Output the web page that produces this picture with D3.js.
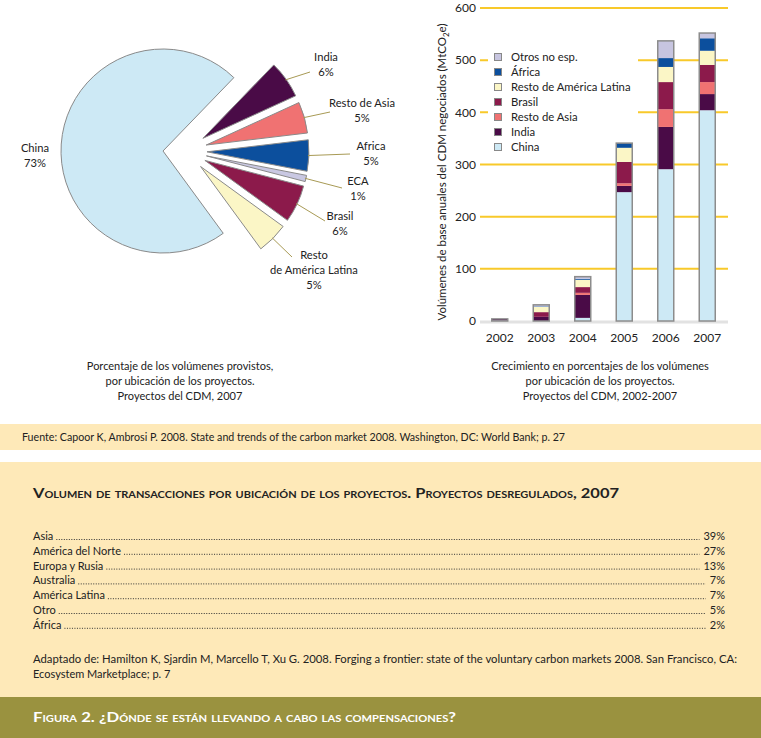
<!DOCTYPE html>
<html>
<head>
<meta charset="utf-8">
<script src="https://cdn.jsdelivr.net/npm/d3@7"></script>
<style>
  body { margin: 0; background: #fff; }
  svg { display: block; font-family: Lato, "Open Sans", sans-serif; }
  text { fill: #222; }
</style>
</head>
<body>
<div id="chart"></div>
<script>
// ---- data ----
const years = ["2002", "2003", "2004", "2005", "2006", "2007"];
const seriesNames = ["China", "India", "Resto de Asia", "Brasil", "Resto de América Latina", "África", "Otros no esp."];
const china     = [1, 0, 6, 247, 291, 404];
const india     = [3, 8, 44, 12, 81, 31];
const restoAsia = [0, 0, 4, 5, 34, 23];
const brasil    = [0, 9, 11, 41, 52, 33];
const restoAL   = [0, 10, 14, 27, 29, 27];
const africa    = [0, 1, 2, 9, 17, 24];
const otros     = [0, 3, 4, 0, 33, 10];
const yTicks = [0, 100, 200, 300, 400, 500, 600];

const pieNames  = ["India", "Resto de Asia", "Africa", "ECA", "Brasil", "Resto de América Latina", "China"];
const pieValues = [6, 5, 5, 1, 6, 5, 73];
const pieLabelText = [["India"], ["Resto de Asia"], ["Africa"], ["ECA"], ["Brasil"], ["Resto", "de América Latina"], ["China"]];

const deregNames = ["Asia", "América del Norte", "Europa y Rusia", "Australia", "América Latina", "Otro", "África"];
const deregPct   = [39, 27, 13, 7, 7, 5, 2];

// ---- colours ----
const colors = {
  "China": "#cde9f5", "India": "#4a0b47", "Resto de Asia": "#f07272", "Brasil": "#8c1a4b",
  "Resto de América Latina": "#fbf6c6", "África": "#0c4f9d", "Africa": "#0c4f9d",
  "Otros no esp.": "#c7c5e0", "ECA": "#c9c8e2"
};
const gold = "#f8c92a", boxFill = "#fee9b8", olive = "#9a923f", leader = "#a89a55";

const W = 761, H = 738;
const svg = d3.select("#chart").append("svg").attr("width", W).attr("height", H);

// ================= PIE =================
const cx = 163, cy = 151, r = 102;
const pie = d3.pie().sort(null).value(d => d)
  .startAngle(44 * Math.PI / 180).endAngle(44 * Math.PI / 180 + 2 * Math.PI);
const arcs = pie(pieValues);
const arc = d3.arc().innerRadius(0).outerRadius(r);

// label blocks and leader ends are hand placed, like the original
const labelPos = [[326, 61], [362, 107], [371, 150], [358, 185], [340, 220], [314, 259], [35, 152]];
const leaderEnd = [[310, 72], [330, 112], [350, 154], [342, 188], [325, 221], [292, 257], null];

function offset(a, i) {
  if (pieNames[i] === "China") return [0, 0];
  const m = (a.startAngle + a.endAngle) / 2;
  return [22 + 22 * Math.sin(m), -22 * Math.cos(m)];
}

const gp = svg.append("g");
arcs.forEach((a, i) => {
  const [dx, dy] = offset(a, i);
  gp.append("path")
    .attr("transform", `translate(${cx + dx},${cy + dy})`)
    .attr("d", arc(a))
    .attr("fill", colors[pieNames[i]])
    .attr("stroke", "#8a8a8a").attr("stroke-width", 1);
  if (leaderEnd[i]) {
    const m = (a.startAngle + a.endAngle) / 2;
    const sx = cx + dx + (r - 1) * Math.sin(m), sy = cy + dy - (r - 1) * Math.cos(m);
    gp.append("line").attr("x1", sx).attr("y1", sy)
      .attr("x2", leaderEnd[i][0]).attr("y2", leaderEnd[i][1])
      .attr("stroke", leader).attr("stroke-width", 1);
  }
  const lines = pieLabelText[i].concat([pieValues[i] + "%"]);
  const t = gp.append("text").attr("text-anchor", "middle").attr("font-size", 11.2);
  lines.forEach((l, k) => t.append("tspan").attr("x", labelPos[i][0]).attr("y", labelPos[i][1] + k * 15).text(l));
});

function caption(x, y, lines) {
  const t = svg.append("text").attr("text-anchor", "middle").attr("font-size", 11);
  lines.forEach((l, k) => t.append("tspan").attr("x", x).attr("y", y + k * 15).text(l));
}
caption(180, 370, ["Porcentaje de los volúmenes provistos,", "por ubicación de los proyectos.", "Proyectos del CDM, 2007"]);

// ================= STACKED BARS =================
const x = d3.scaleBand().domain(years).range([479, 728]);
const y = d3.scaleLinear().domain([0, 600]).range([321, 8]);
const barW = 16;

const gb = svg.append("g");
gb.selectAll("line.grid").data(yTicks.filter(d => d > 0)).join("line")
  .attr("x1", 480).attr("x2", 728).attr("y1", d => y(d)).attr("y2", d => y(d))
  .attr("stroke", gold).attr("stroke-width", 2);
gb.append("line").attr("x1", 480).attr("x2", 728).attr("y1", y(0) + 1).attr("y2", y(0) + 1)
  .attr("stroke", "#e2e2e2").attr("stroke-width", 3);
gb.selectAll("text.tick").data(yTicks).join("text")
  .attr("x", 476).attr("y", d => y(d)).attr("dy", "0.35em")
  .attr("text-anchor", "end").attr("font-size", 12).text(d => d);

// legend background hides the gridlines behind it (drawn before the bars)
gb.append("rect").attr("x", 488).attr("y", 48).attr("width", 150).attr("height", 108).attr("fill", "#fff");

const seriesVals = [china, india, restoAsia, brasil, restoAL, africa, otros];
const table = years.map((yr, i) => {
  const row = { year: yr };
  seriesNames.forEach((s, k) => row[s] = seriesVals[k][i]);
  return row;
});
const stack = d3.stack().keys(seriesNames)(table);

gb.selectAll("g.layer").data(stack).join("g")
  .attr("fill", d => colors[d.key])
  .selectAll("rect").data(d => d).join("rect")
  .attr("x", d => x(d.data.year) + x.bandwidth() / 2 - barW / 2)
  .attr("width", barW)
  .attr("y", d => y(d[1]))
  .attr("height", d => y(d[0]) - y(d[1]));

const total = d => d3.sum(seriesNames, s => d[s]);
gb.selectAll("rect.outline").data(table).join("rect")
  .attr("x", d => x(d.year) + x.bandwidth() / 2 - barW / 2)
  .attr("width", barW)
  .attr("y", d => y(total(d)))
  .attr("height", d => y(0) - y(total(d)))
  .attr("fill", "none").attr("stroke", "#8c8c8c").attr("stroke-width", 1.5);

gb.selectAll("text.year").data(years).join("text")
  .attr("x", d => x(d) + x.bandwidth() / 2).attr("y", 342)
  .attr("text-anchor", "middle").attr("font-size", 12).text(d => d);

// y title
const yt = gb.append("text").attr("transform", "translate(446,172) rotate(-90)")
  .attr("text-anchor", "middle").attr("font-size", 11.5);
yt.append("tspan").text("Volúmenes de base anuales del CDM negociados (MtCO");
yt.append("tspan").attr("font-size", 8).attr("dy", 3).text("2");
yt.append("tspan").attr("dy", -3).text("e)");

// legend
const legendOrder = seriesNames.slice().reverse();
const lg = gb.selectAll("g.leg").data(legendOrder).join("g")
  .attr("transform", (d, i) => `translate(498,${57 + i * 15})`);
lg.append("rect").attr("x", -3.5).attr("y", -3.5).attr("width", 7).attr("height", 7)
  .attr("fill", d => colors[d]).attr("stroke", "#888").attr("stroke-width", 1);
lg.append("text").attr("x", 13).attr("dy", "0.36em").attr("font-size", 11.3).text(d => d);

caption(600, 370, ["Crecimiento en porcentajes de los volúmenes", "por ubicación de los proyectos.", "Proyectos del CDM, 2002-2007"]);

// ================= SOURCE BOX =================
svg.append("rect").attr("x", 0).attr("y", 424).attr("width", W).attr("height", 26).attr("fill", boxFill);
svg.append("text").attr("x", 22).attr("y", 441).attr("font-size", 11)
  .attr("textLength", 543).attr("lengthAdjust", "spacingAndGlyphs")
  .text("Fuente: Capoor K, Ambrosi P. 2008. State and trends of the carbon market 2008. Washington, DC: World Bank; p. 27");

// ================= DEREGULATED BOX =================
svg.append("rect").attr("x", 0).attr("y", 462).attr("width", W).attr("height", 236).attr("fill", boxFill);
svg.append("text").attr("x", 33).attr("y", 498).attr("font-size", 13.5).attr("font-weight", "bold")
  .style("font-variant", "small-caps").attr("textLength", 586).attr("lengthAdjust", "spacingAndGlyphs")
  .text("Volumen de transacciones por ubicación de los proyectos. Proyectos desregulados, 2007");

const rows = svg.append("g");
deregNames.forEach((n, i) => {
  const yy = 540 + i * 14.8;
  const t = rows.append("text").attr("x", 33).attr("y", yy).attr("font-size", 11).text(n);
  const tw = t.node().getComputedTextLength();
  const p = rows.append("text").attr("x", 725).attr("y", yy).attr("text-anchor", "end").attr("font-size", 11).text(deregPct[i] + "%");
  const pw = p.node().getComputedTextLength();
  rows.append("line").attr("x1", 33 + tw + 3).attr("x2", 725 - pw - 4).attr("y1", yy - 0.5).attr("y2", yy - 0.5)
    .attr("stroke", "#333").attr("stroke-width", 1).attr("stroke-dasharray", "1,1.5");
});

svg.append("text").attr("x", 33).attr("y", 663).attr("font-size", 11)
  .attr("textLength", 704).attr("lengthAdjust", "spacingAndGlyphs")
  .text("Adaptado de: Hamilton K, Sjardin M, Marcello T, Xu G. 2008. Forging a frontier: state of the voluntary carbon markets 2008. San Francisco, CA:");
svg.append("text").attr("x", 33).attr("y", 678).attr("font-size", 11)
  .text("Ecosystem Marketplace; p. 7");

// ================= BANNER =================
svg.append("rect").attr("x", 0).attr("y", 697).attr("width", W).attr("height", 41).attr("fill", olive);
svg.append("text").attr("x", 33).attr("y", 722).attr("font-size", 13.5).attr("font-weight", "bold")
  .style("font-variant", "small-caps").style("fill", "#fff")
  .attr("textLength", 423).attr("lengthAdjust", "spacingAndGlyphs")
  .text("Figura 2. ¿Dónde se están llevando a cabo las compensaciones?");
</script>
</body>
</html>
